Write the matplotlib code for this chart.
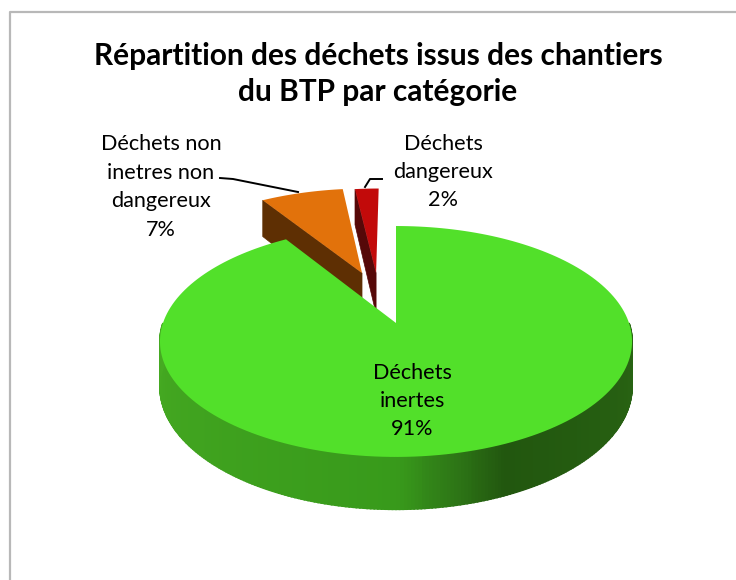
import numpy as np
import matplotlib
matplotlib.use('Agg')
import matplotlib.pyplot as plt
from matplotlib.colors import LinearSegmentedColormap

# Data
labels = ["Déchets\ninertes", "Déchets non\ninetres non\ndangereux", "Déchets\ndangereux"]
values = [91, 7, 2]
title = "Répartition des déchets issus des chantiers\ndu BTP par catégorie"

# Colours of the top faces and of the dark side faces
top_colors = ['#52e02a', '#e2720b', '#c20a0a']
side_colors = ['#3a8f1c', '#5e2f03', '#560808']

# Perspective of the 3D pie, in pixels
cx, cy = 396, 323
rad_x, rad_y, persp = 233, 112.5, 0.16
depth = 44
# how far each slice is pulled out of the pie
offsets = [(0, 0), (-0.157, 0.478), (-0.092, 0.478)]

side_cmap = LinearSegmentedColormap.from_list('side', [
    (0.0, '#2a6614'), (0.37, '#22570f'), (0.44, '#2f7a17'), (0.5, '#389a1b'), (1.0, '#46aa22')])


def project(u, v, z=0):
    w = 1 + persp * v
    return cx + rad_x * u / w, cy - rad_y * v / w + depth * z / w


def rim(start, end, off):
    # angles are clockwise from 12 o'clock, as fractions of the whole pie
    a = 2 * np.pi * np.linspace(start, end, 200)
    return off[0] + np.sin(a), off[1] + np.cos(a)


plt.rcParams['font.family'] = ['Lato', 'DejaVu Sans']
fig = plt.figure(figsize=(7.36, 5.8), dpi=100)
ax = fig.add_axes([0, 0, 1, 1])
ax.set_xlim(0, 736)
ax.set_ylim(580, 0)
ax.axis('off')

# Chart frame, cut off by the image on the right and at the bottom
ax.plot([9.5, 9.5, 740], [585, 12, 12], color='#b8b8b8', lw=1.6)

edges = np.cumsum([0] + values) / sum(values)

# Exploded slices first, green pie goes over them
for i in [1, 2]:
    start, end = edges[i], edges[i + 1]
    off = offsets[i]
    # left radial face, the only side seen from the front
    us = [off[0] + np.sin(2 * np.pi * start), off[0]]
    vs = [off[1] + np.cos(2 * np.pi * start), off[1]]
    x0, y0 = project(np.array(us), np.array(vs))
    x1, y1 = project(np.array(us), np.array(vs), 1)
    ax.fill(np.r_[x0, x1[::-1]], np.r_[y0, y1[::-1]], color=side_colors[i], lw=0.5)
    u, v = rim(start, end, off)
    x, y = project(np.r_[off[0], u], np.r_[off[1], v])
    ax.fill(x, y, color=top_colors[i], lw=0)

# Side of the green slice, shaded along the rim
a = np.linspace(np.pi / 2, 3 * np.pi / 2, 241)
for k in range(len(a) - 1):
    us = np.sin(a[k:k + 2])
    vs = np.cos(a[k:k + 2])
    x0, y0 = project(us, vs)
    x1, y1 = project(us, vs, 1)
    c = side_cmap(k / (len(a) - 2))
    ax.fill(np.r_[x0, x1[::-1]], np.r_[y0, y1[::-1]], color=c, ec=c, lw=1.2)

u, v = rim(edges[0], edges[1], offsets[0])
x, y = project(np.r_[0, u], np.r_[0, v])
ax.fill(x, y, color=top_colors[0], lw=0)

# Leader lines
ax.plot([220, 233, 298], [178, 179, 192], color='black', lw=1.4)
ax.plot([382, 370, 365], [179, 179, 187], color='black', lw=1.4)

# Texts
ax.text(378, 74, title, ha='center', va='center', fontsize=21.5, fontweight='bold',
        linespacing=1.33)
label_pos = [(412, 401), (161, 187), (443, 172)]
for lab, val, (tx, ty) in zip(labels, values, label_pos):
    ax.text(tx, ty, f"{lab}\n{val}%", ha='center', va='center', fontsize=15.6, linespacing=1.53)

fig.savefig('out.png', dpi=100)
